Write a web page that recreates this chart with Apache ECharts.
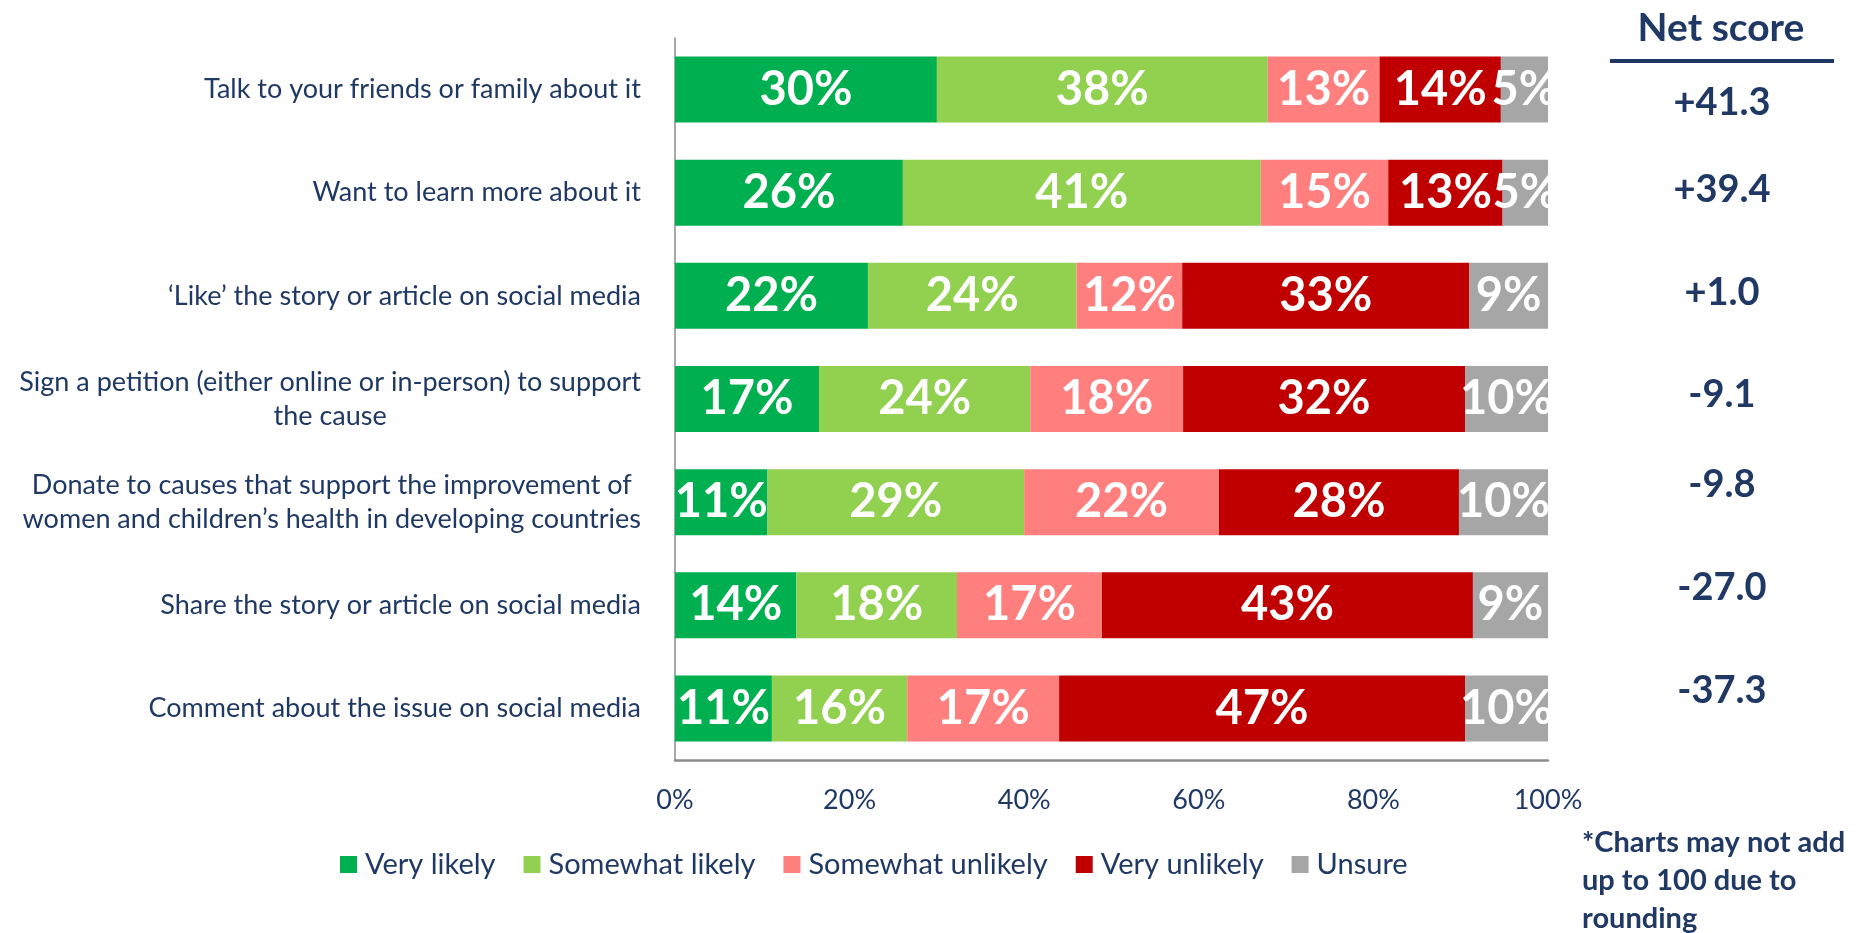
<!DOCTYPE html>
<html><head><meta charset="utf-8">
<script src="https://cdn.jsdelivr.net/npm/echarts@6/dist/echarts.min.js"></script>
<style>html,body{margin:0;padding:0;background:#fff;}#chart{width:1858px;height:933px;}</style>
</head><body><div id="chart"></div>
<script>
const categories = [
  'Talk to your friends or family about it',
  'Want to learn more about it',
  '\u2018Like\u2019 the story or article on social media',
  'Sign a petition (either online or in-person) to support\nthe cause',
  'Donate to causes that support the improvement of\nwomen and children\u2019s health in developing countries',
  'Share the story or article on social media',
  'Comment about the issue on social media'
];
const seriesNames = ['Very likely', 'Somewhat likely', 'Somewhat unlikely', 'Very unlikely', 'Unsure'];
const veryLikely       = [30.0, 26.1, 22.1, 16.5, 10.6, 13.9, 11.1];
const somewhatLikely   = [37.9, 41.0, 23.9, 24.2, 29.4, 18.4, 15.5];
const somewhatUnlikely = [12.8, 14.6, 12.1, 17.5, 22.3, 16.6, 17.4];
const veryUnlikely     = [13.9, 13.1, 32.9, 32.3, 27.5, 42.5, 46.5];
const unsure           = [5.4, 5.2, 9.0, 9.5, 10.2, 8.6, 9.5];
const netScores = ['+41.3', '+39.4', '+1.0', '-9.1', '-9.8', '-27.0', '-37.3'];
const xTicks = [0, 20, 40, 60, 80, 100];
const netTitle = 'Net score';
const footnote = '*Charts may not add\nup to 100 due to\nrounding';

const colors = ['#00B050', '#92D050', '#FF7F7F', '#C00000', '#A6A6A6'];
const navy = '#1F3864';
const FONT = 'Lato';
const netY = [103, 190, 293, 395, 485, 588, 691];

const allSeries = [veryLikely, somewhatLikely, somewhatUnlikely, veryUnlikely, unsure];

const chart = echarts.init(document.getElementById('chart'), null, {renderer: 'canvas'});

const graphic = [
  {type: 'text', x: 1721, y: 28, style: {text: netTitle, fill: navy, font: 'bold 39px ' + FONT, align: 'center', verticalAlign: 'middle'}},
  {type: 'line', shape: {x1: 1610, y1: 61, x2: 1834, y2: 61}, style: {stroke: navy, lineWidth: 4}},
  {type: 'text', x: 1582, y: 824, style: {text: footnote, fill: navy, font: 'bold 29px ' + FONT, lineHeight: 38, verticalAlign: 'top'}}
];
netScores.forEach((s, i) => {
  graphic.push({type: 'text', x: 1722, y: netY[i], style: {text: s, fill: navy, font: 'bold 38px ' + FONT, align: 'center', verticalAlign: 'middle'}});
});

const option = {
  animation: false,
  textStyle: {fontFamily: FONT},
  grid: {left: 675, right: 310, top: 38, bottom: 173, containLabel: false},
  legend: {
    data: seriesNames,
    left: 335, top: 845,
    icon: 'rect', itemWidth: 17, itemHeight: 17, itemGap: 28,
    textStyle: {fontFamily: FONT, fontSize: 29, color: navy, padding: [0, 0, 0, 3]}
  },
  xAxis: {
    type: 'value', min: xTicks[0], max: xTicks[xTicks.length - 1], interval: xTicks[1] - xTicks[0],
    axisLine: {show: true, lineStyle: {color: '#8C8C8C', width: 2.5}},
    axisTick: {show: false},
    splitLine: {show: false},
    axisLabel: {formatter: '{value}%', fontFamily: FONT, fontSize: 27, color: navy, margin: 27}
  },
  yAxis: {
    type: 'category', data: categories, inverse: true,
    axisLine: {show: true, lineStyle: {color: '#8C8C8C', width: 1.5}},
    axisTick: {show: false},
    axisLabel: {
      interval: 0, margin: 34, fontFamily: FONT, fontSize: 27, color: navy, lineHeight: 34, align: 'right',
      formatter: v => v.indexOf('\n') >= 0 ? v.split('\n').map(l => '{c|' + l + '}').join('\n') : v,
      rich: {c: {align: 'center', fontFamily: FONT, fontSize: 27, color: navy, lineHeight: 34}}
    }
  },
  series: allSeries.map((d, k) => ({
    name: seriesNames[k], type: 'bar', stack: 'total', data: d, barWidth: 66,
    itemStyle: {color: colors[k]},
    label: {show: true, position: 'inside', color: '#fff', fontFamily: FONT, fontWeight: 'bold', fontSize: 47,
      formatter: p => Math.round(p.value) + '%'}
  })),
  graphic: graphic
};
chart.setOption(option);
</script></body></html>
